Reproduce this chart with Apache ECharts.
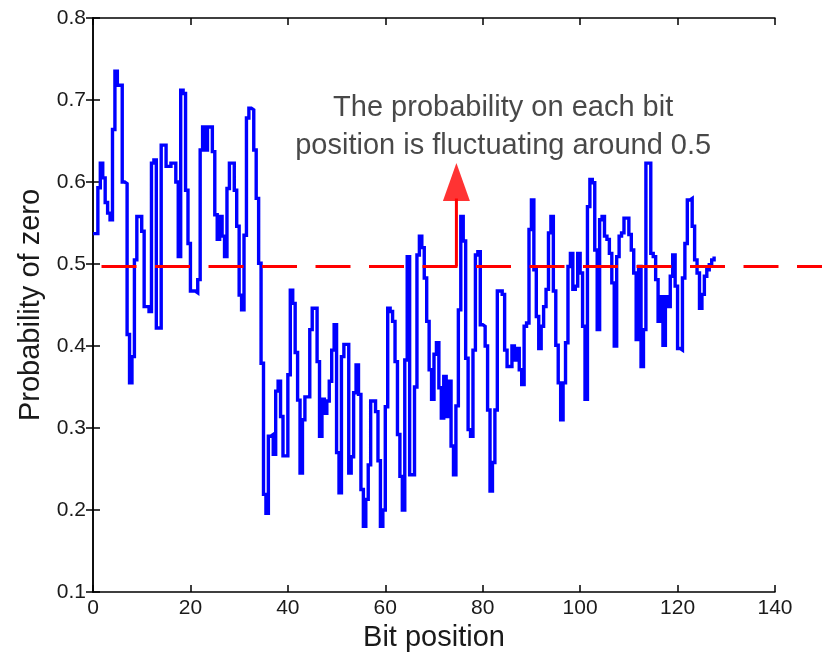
<!DOCTYPE html>
<html>
<head>
<meta charset="utf-8">
<script src="https://cdn.jsdelivr.net/npm/echarts@6/dist/echarts.min.js"></script>
<style>
html,body{margin:0;padding:0;background:#fff;}
#chart{width:822px;height:659px;}
</style>
</head>
<body>
<div id="chart"></div>
<script>
// Probability of zero, sampled every half bit position (0, 0.5, 1, ... 127.5)
const sampleStep = 0.5;
const probZero = [
  0.537, 0.537, 0.593, 0.623, 0.605, 0.575, 0.562, 0.554, 0.664, 0.735,
  0.718, 0.718, 0.600, 0.598, 0.414, 0.355, 0.387, 0.505, 0.558, 0.558,
  0.540, 0.448, 0.448, 0.442, 0.623, 0.627, 0.422, 0.422, 0.645, 0.645,
  0.619, 0.619, 0.623, 0.623, 0.600, 0.509, 0.712, 0.708, 0.590, 0.525,
  0.467, 0.467, 0.465, 0.481, 0.639, 0.667, 0.639, 0.667, 0.667, 0.637,
  0.560, 0.530, 0.558, 0.534, 0.509, 0.592, 0.623, 0.623, 0.590, 0.546,
  0.462, 0.444, 0.535, 0.678, 0.690, 0.688, 0.639, 0.580, 0.501, 0.379,
  0.219, 0.196, 0.290, 0.292, 0.268, 0.345, 0.357, 0.314, 0.266, 0.266,
  0.365, 0.468, 0.452, 0.392, 0.334, 0.245, 0.310, 0.338, 0.338, 0.420,
  0.446, 0.446, 0.381, 0.290, 0.335, 0.318, 0.333, 0.357, 0.395, 0.426,
  0.270, 0.221, 0.387, 0.402, 0.402, 0.245, 0.265, 0.343, 0.377, 0.341,
  0.225, 0.180, 0.213, 0.255, 0.333, 0.333, 0.320, 0.260, 0.180, 0.200,
  0.326, 0.446, 0.442, 0.430, 0.381, 0.292, 0.241, 0.200, 0.383, 0.509,
  0.243, 0.243, 0.350, 0.511, 0.534, 0.520, 0.483, 0.430, 0.371, 0.335,
  0.390, 0.404, 0.349, 0.312, 0.363, 0.314, 0.357, 0.278, 0.243, 0.327,
  0.444, 0.558, 0.528, 0.385, 0.298, 0.290, 0.395, 0.511, 0.515, 0.426,
  0.424, 0.400, 0.322, 0.223, 0.258, 0.322, 0.467, 0.467, 0.463, 0.395,
  0.375, 0.375, 0.400, 0.383, 0.397, 0.371, 0.353, 0.424, 0.428, 0.542,
  0.578, 0.493, 0.436, 0.397, 0.424, 0.448, 0.469, 0.538, 0.558, 0.467,
  0.401, 0.355, 0.310, 0.355, 0.404, 0.497, 0.513, 0.469, 0.473, 0.513,
  0.489, 0.424, 0.335, 0.570, 0.603, 0.599, 0.517, 0.420, 0.554, 0.558,
  0.534, 0.530, 0.513, 0.477, 0.400, 0.509, 0.534, 0.538, 0.556, 0.556,
  0.536, 0.517, 0.489, 0.408, 0.497, 0.375, 0.420, 0.623, 0.623, 0.513,
  0.509, 0.481, 0.430, 0.460, 0.401, 0.460, 0.448, 0.485, 0.511, 0.473,
  0.397, 0.395, 0.483, 0.525, 0.578, 0.580, 0.546, 0.505, 0.489, 0.446,
  0.463, 0.485, 0.493, 0.499, 0.505, 0.509
];
const refLevel = 0.497;
const refLineX = [1.75, 150];
const arrowX = 74.6;
const arrowShaftTop = 0.58;
const arrowHeadCenter = 0.60;
const noteX = 84.2;
const noteY = 0.667;
const noteText = 'The probability on each bit\nposition is fluctuating around 0.5';
const xTicks = {min: 0, max: 140, interval: 20};
const yTicks = {min: 0.1, max: 0.8, interval: 0.1};
const overflowMax = 150;

const FONT = '"Liberation Sans", Arial, Helvetica, sans-serif';
const chart = echarts.init(document.getElementById('chart'));
const axisCommon = {
  axisLine: {show: true, lineStyle: {color: '#000', width: 1.5}},
  axisTick: {show: true, inside: true, length: 7, lineStyle: {color: '#000', width: 1.5}},
  splitLine: {show: false}
};
const plotLeft = 93, plotTop = 18, plotRight = 47, plotBottom = 67;
const plotWidth = 822 - plotLeft - plotRight;
const pxPerUnit = plotWidth / (xTicks.max - xTicks.min);
chart.setOption({
  animation: false,
  backgroundColor: '#fff',
  grid: [
    {left: plotLeft, top: plotTop, right: plotRight, bottom: plotBottom},
    // same scale, wider box so the dashed reference line runs past the axes as in the original
    {left: plotLeft, top: plotTop, bottom: plotBottom, width: pxPerUnit * overflowMax}
  ],
  xAxis: [
    Object.assign({
      type: 'value', min: xTicks.min, max: xTicks.max, interval: xTicks.interval,
      name: 'Bit position', nameLocation: 'middle', nameGap: 26,
      nameTextStyle: {fontFamily: FONT, fontSize: 29, color: '#1a1a1a'},
      axisLabel: {fontFamily: FONT, fontSize: 21, color: '#1a1a1a', margin: 6}
    }, axisCommon),
    Object.assign({
      type: 'value', position: 'top', min: xTicks.min, max: xTicks.max, interval: xTicks.interval,
      axisLabel: {show: false}
    }, axisCommon),
    {type: 'value', gridIndex: 1, min: 0, max: overflowMax, show: false}
  ],
  yAxis: [
    Object.assign({
      type: 'value', min: yTicks.min, max: yTicks.max, interval: yTicks.interval,
      name: 'Probability of zero', nameLocation: 'middle', nameGap: 47,
      nameTextStyle: {fontFamily: FONT, fontSize: 29, color: '#1a1a1a'},
      axisLabel: {fontFamily: FONT, fontSize: 21, color: '#1a1a1a', margin: 7,
        formatter: v => v.toFixed(1)}
    }, axisCommon),
    Object.assign({
      type: 'value', position: 'right', min: yTicks.min, max: yTicks.max, interval: yTicks.interval,
      axisLabel: {show: false}
    }, axisCommon),
    {type: 'value', gridIndex: 1, min: yTicks.min, max: yTicks.max, show: false}
  ],
  series: [
    {
      type: 'line', step: 'end', showSymbol: false, symbol: 'none',
      data: probZero.map((v, i) => [i * sampleStep, v]),
      lineStyle: {color: '#0000ff', width: 3.4, join: 'miter'},
      z: 2
    },
    {
      type: 'line', showSymbol: false, symbol: 'none',
      xAxisIndex: 2, yAxisIndex: 2,
      data: refLineX.map(x => [x, refLevel]),
      lineStyle: {color: '#ff0000', width: 3, type: [35, 18.5]},
      z: 3
    },
    {
      type: 'line', showSymbol: false, symbol: 'none',
      data: [[arrowX, refLevel], [arrowX, arrowShaftTop]],
      lineStyle: {color: '#ff0000', width: 3},
      z: 3
    },
    {
      type: 'scatter', symbol: 'triangle', symbolSize: [27, 38],
      itemStyle: {color: '#ff0000'},
      data: [[arrowX, arrowHeadCenter]],
      z: 3
    },
    {
      type: 'scatter', symbolSize: 0,
      data: [[noteX, noteY]],
      label: {
        show: true, position: 'inside', formatter: noteText,
        fontFamily: FONT, fontSize: 29, lineHeight: 38, color: '#1a1a1a',
        align: 'center', verticalAlign: 'middle'
      },
      z: 4
    }
  ]
});
</script>
</body>
</html>
